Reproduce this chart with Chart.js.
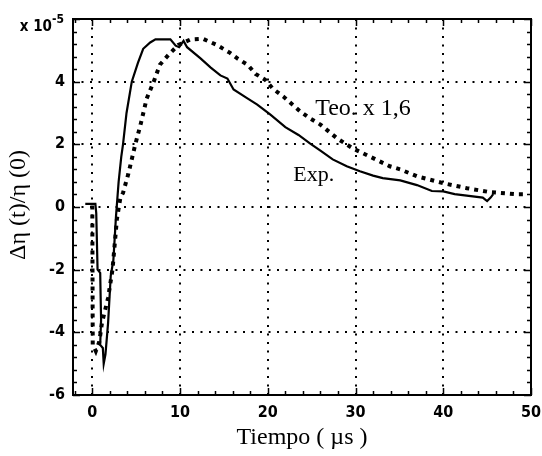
<!DOCTYPE html>
<html>
<head>
<meta charset="utf-8">
<script src="https://cdn.jsdelivr.net/npm/chart.js@4.4.0/dist/chart.umd.min.js"></script>
<style>
    html, body { margin: 0; padding: 0; background: #fff; }
    #wrap { width: 542px; height: 456px; }
</style>
</head>
<body>
<div id="wrap"><canvas id="chart" width="542" height="456"></canvas></div>
<script>
// Experimental trace (solid)
const expTime = [-0.8, 0.35, 0.45, 0.6, 0.9, 1.0, 0.9, 1.2, 1.3, 1.5, 1.8, 2.1, 2.4, 2.7, 3.0, 3.3, 3.5, 3.9, 4.5, 5.2, 5.8, 6.6, 7.2, 8.9, 9.5, 9.9, 10.4, 10.8, 12.3, 13.5, 14.6, 15.4, 16.1, 17.5, 18.8, 20.3, 22.0, 23.5, 24.8, 26.0, 27.4, 29.0, 30.5, 32.0, 33.1, 35.1, 37.0, 38.7, 40.0, 41.3, 44.5, 45.0, 45.4, 45.7];
const expValue = [0.1, 0.1, -0.2, -2.0, -2.1, -3.6, -4.4, -4.5, -5.0, -4.7, -3.7, -2.2, -1.7, -0.3, 0.8, 1.6, 2.0, 3.0, 4.0, 4.6, 5.05, 5.25, 5.35, 5.35, 5.15, 5.1, 5.3, 5.1, 4.75, 4.45, 4.2, 4.1, 3.75, 3.5, 3.27, 2.95, 2.55, 2.3, 2.03, 1.8, 1.52, 1.3, 1.14, 1.0, 0.92, 0.85, 0.7, 0.51, 0.5, 0.41, 0.3, 0.19, 0.3, 0.41];

// Theory x 1,6 (dotted)
const teoTime = [0.0, 0.05, 0.4, 0.8, 1.1, 1.8, 2.3, 2.8, 3.2, 3.5, 4.1, 4.9, 5.5, 6.2, 7.0, 7.7, 8.7, 9.8, 11.2, 12.6, 14.2, 15.7, 16.6, 17.7, 18.6, 19.7, 20.6, 21.8, 23.7, 24.8, 26.0, 27.9, 29.7, 32.0, 33.9, 35.1, 37.0, 40.0, 42.7, 45.2, 48.3, 49.6];
const teoValue = [0.05, -4.4, -4.6, -4.3, -3.7, -2.9, -2.0, -0.4, 0.3, 0.45, 1.05, 2.0, 2.63, 3.46, 4.0, 4.54, 4.86, 5.17, 5.35, 5.37, 5.17, 4.92, 4.73, 4.54, 4.25, 4.06, 3.77, 3.52, 3.05, 2.83, 2.63, 2.19, 1.87, 1.56, 1.30, 1.2, 0.98, 0.76, 0.6, 0.48, 0.41, 0.41];

const xTicks = [0, 10, 20, 30, 40, 50];
const yTicks = [-6, -4, -2, 0, 2, 4, 6];
const xMin = -2.2, xMax = 50, yMin = -6, yMax = 6;

const serif = '"Liberation Serif", "Times New Roman", serif';
const narrow = '"Liberation Sans Narrow", "DejaVu Sans Condensed", "Liberation Sans", sans-serif';

function toPoints(xs, ys) {
    return xs.map((x, i) => ({ x: x, y: ys[i] }));
}

// frame, inward ticks and text annotations
const decorPlugin = {
    id: 'decor',
    afterDraw(chart) {
        const ctx = chart.ctx;
        const a = chart.chartArea;
        const xs = chart.scales.x, ys = chart.scales.y;
        ctx.save();
        ctx.strokeStyle = '#000';
        ctx.lineWidth = 2;
        ctx.strokeRect(a.left, a.top, a.right - a.left, a.bottom - a.top);

        ctx.lineWidth = 1.5;
        ctx.beginPath();
        for (let v = -2; v <= 50.01; v += 2) {
            const px = Math.round(xs.getPixelForValue(v)) + 0.5;
            const len = Math.abs(v % 10) < 0.01 ? 7 : 4;
            ctx.moveTo(px, a.bottom); ctx.lineTo(px, a.bottom - len);
            ctx.moveTo(px, a.top); ctx.lineTo(px, a.top + len);
        }
        for (let i = 0; i <= 30; i++) {
            const v = -6 + i * 0.4;
            const py = Math.round(ys.getPixelForValue(v)) + 0.5;
            const len = i % 5 === 0 ? 7 : 4;
            ctx.moveTo(a.left, py); ctx.lineTo(a.left + len, py);
            ctx.moveTo(a.right, py); ctx.lineTo(a.right - len, py);
        }
        ctx.stroke();

        ctx.fillStyle = '#000';
        // exponent label at the top of the y axis
        ctx.font = 'bold 15px ' + narrow;
        ctx.textAlign = 'right';
        ctx.textBaseline = 'alphabetic';
        ctx.fillText('x 10', 52, 31);
        ctx.font = 'bold 12px ' + narrow;
        ctx.textAlign = 'left';
        ctx.fillText('-5', 52, 23);

        // curve labels
        ctx.font = '24px ' + serif;
        ctx.fillText('Teo. x 1,6', xs.getPixelForValue(25.4), ys.getPixelForValue(2.95));
        ctx.font = '22px ' + serif;
        ctx.fillText('Exp.', xs.getPixelForValue(22.9), ys.getPixelForValue(0.83));

        // axis titles
        ctx.font = '24px ' + serif;
        ctx.textAlign = 'center';
        ctx.textBaseline = 'middle';
        ctx.fillText('Tiempo ( \u00b5s )', (a.left + a.right) / 2, 438);
        ctx.translate(19, 205);
        ctx.rotate(-Math.PI / 2);
        ctx.fillText('\u0394\u03b7 (t)/\u03b7 (0)', 0, 0);
        ctx.restore();
    }
};

const dotted = { display: true, color: '#000', lineWidth: 2, drawTicks: false };

new Chart(document.getElementById('chart'), {
    type: 'line',
    data: {
        datasets: [{
            label: 'Exp.',
            data: toPoints(expTime, expValue),
            borderColor: '#000',
            borderWidth: 2.2,
            pointRadius: 0,
            tension: 0,
            fill: false
        }, {
            label: 'Teo. x 1,6',
            data: toPoints(teoTime, teoValue),
            borderColor: '#000',
            borderWidth: 4,
            borderDash: [4, 5],
            borderCapStyle: 'butt',
            pointRadius: 0,
            tension: 0,
            fill: false
        }]
    },
    options: {
        responsive: false,
        animation: false,
        layout: { padding: { top: 19, right: 11, left: 0, bottom: 0 } },
        plugins: {
            legend: { display: false },
            tooltip: { enabled: false }
        },
        scales: {
            x: {
                type: 'linear',
                min: xMin,
                max: xMax,
                afterBuildTicks: s => { s.ticks = xTicks.map(v => ({ value: v })); },
                afterFit: s => { s.height = 61; s.paddingLeft = 0; s.paddingRight = 0; },
                grid: dotted,
                border: { display: false, dash: [2, 6.5] },
                ticks: {
                    color: '#000',
                    padding: 8,
                    maxRotation: 0,
                    font: { family: narrow, size: 16, weight: 'bold' }
                }
            },
            y: {
                min: yMin,
                max: yMax,
                afterBuildTicks: s => { s.ticks = yTicks.map(v => ({ value: v })); },
                afterFit: s => { s.width = 73; s.paddingTop = 0; s.paddingBottom = 0; },
                grid: dotted,
                border: { display: false, dash: [2, 6.5] },
                ticks: {
                    color: '#000',
                    padding: 8,
                    font: { family: narrow, size: 16, weight: 'bold' },
                    callback: v => (v === yMax ? '' : v)
                }
            }
        }
    },
    plugins: [decorPlugin]
});
</script>
</body>
</html>
